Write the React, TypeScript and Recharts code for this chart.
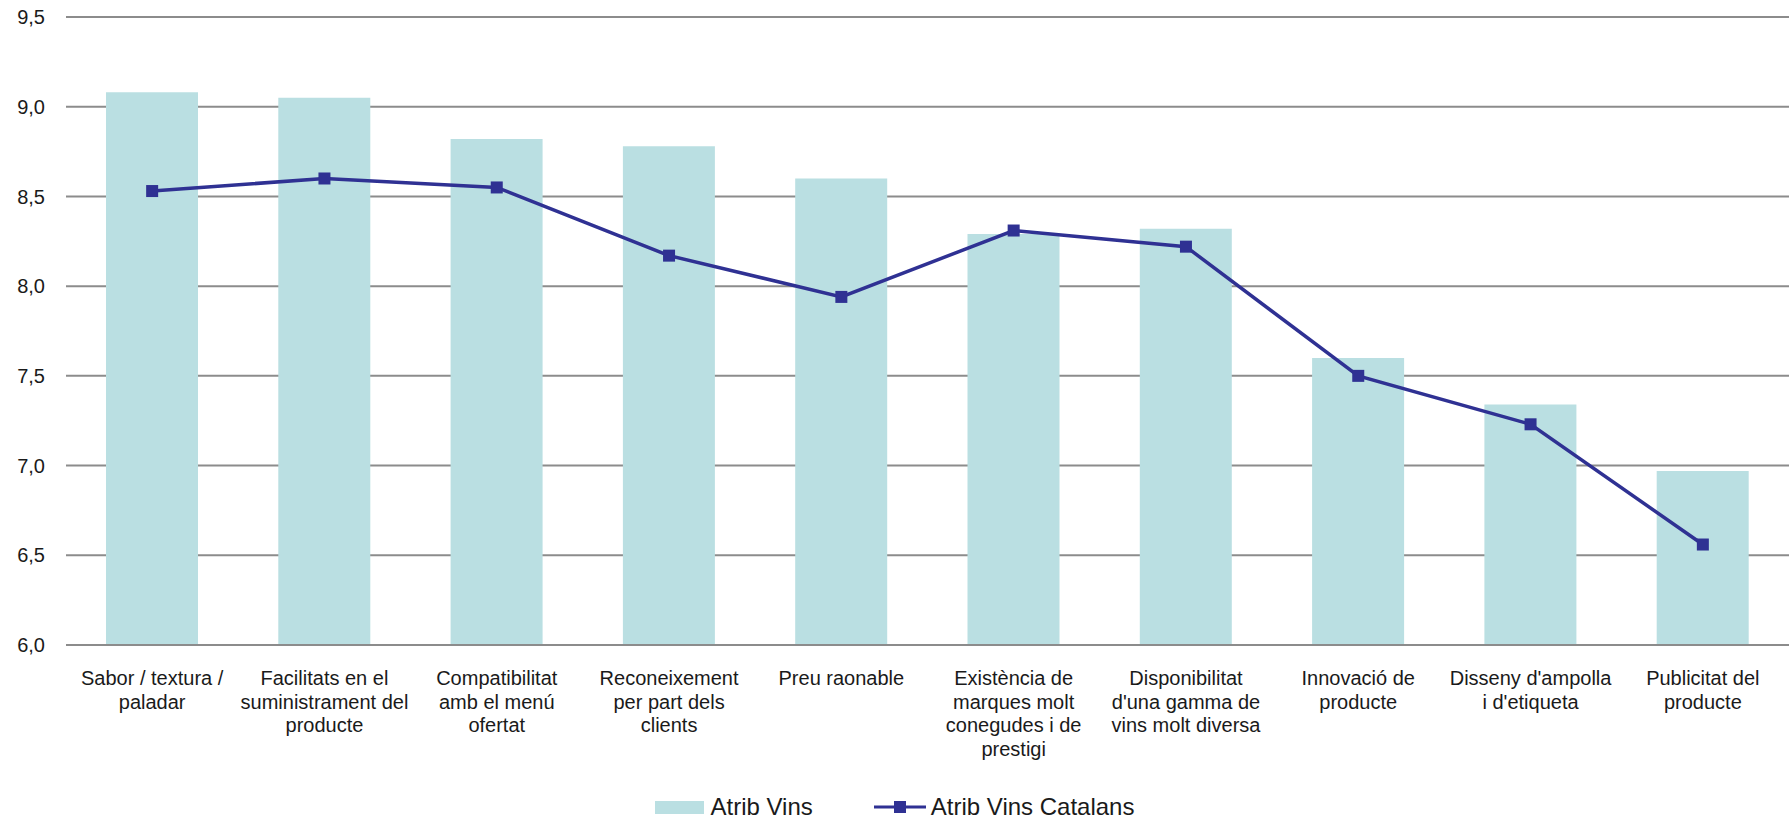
import React from 'react';
import { ComposedChart, Bar, Line, XAxis, YAxis, CartesianGrid } from 'recharts';

// Wine attribute ratings: all wines vs. Catalan wines
const categoryLines: string[][] = [
  ['Sabor / textura /', 'paladar'],
  ['Facilitats en el', 'suministrament del', 'producte'],
  ['Compatibilitat', 'amb el menú', 'ofertat'],
  ['Reconeixement', 'per part dels', 'clients'],
  ['Preu raonable'],
  ['Existència de', 'marques molt', 'conegudes i de', 'prestigi'],
  ['Disponibilitat', "d'una gamma de", 'vins molt diversa'],
  ['Innovació de', 'producte'],
  ["Disseny d'ampolla", "i d'etiqueta"],
  ['Publicitat del', 'producte'],
];

const atribVins: number[] = [9.08, 9.05, 8.82, 8.78, 8.6, 8.29, 8.32, 7.6, 7.34, 6.97];
const atribVinsCatalans: number[] = [8.53, 8.6, 8.55, 8.17, 7.94, 8.31, 8.22, 7.5, 7.23, 6.56];

const yTicks: number[] = [6, 6.5, 7, 7.5, 8, 8.5, 9, 9.5];

const seriesNames = { bars: 'Atrib Vins', line: 'Atrib Vins Catalans' };

const data = categoryLines.map((lines, i) => ({
  key: String(i),
  lines,
  vins: atribVins[i],
  catalans: atribVinsCatalans[i],
}));

const BAR_COLOR = '#badfe2';
const LINE_COLOR = '#2f3193';
const GRID_COLOR = '#8c8c8c';
const TEXT_COLOR = '#1a1a1a';
const FONT = '"Liberation Sans", Arial, Helvetica, sans-serif';

const CategoryTick = (props: any) => {
  const { x, y, payload } = props;
  const lines: string[] = categoryLines[Number(payload.value)] || [];
  return (
    <g transform={`translate(${x},${y})`}>
      <text textAnchor="middle" fill={TEXT_COLOR} fontSize={20} fontFamily={FONT}>
        {lines.map((ln, i) => (
          <tspan key={i} x={0} y={i * 23.6} dy={32}>
            {ln}
          </tspan>
        ))}
      </text>
    </g>
  );
};

const SquareDot = (props: any) => {
  const { cx, cy, index } = props;
  if (cx == null || cy == null) return <g key={`d-${index}`} />;
  return <rect key={`d-${index}`} x={cx - 6} y={cy - 6} width={12} height={12} fill={LINE_COLOR} />;
};

const LegendRow = () => (
  <div
    style={{
      position: 'absolute',
      left: 0,
      top: 792,
      width: 1789,
      display: 'flex',
      justifyContent: 'center',
      alignItems: 'center',
      gap: 61,
      fontFamily: FONT,
      fontSize: 24,
      color: TEXT_COLOR,
      lineHeight: '30px',
    }}
  >
    <div style={{ display: 'flex', alignItems: 'center' }}>
      <span style={{ display: 'inline-block', width: 49, height: 13, background: BAR_COLOR, marginRight: 7 }} />
      <span>{seriesNames.bars}</span>
    </div>
    <div style={{ display: 'flex', alignItems: 'center' }}>
      <svg width={52} height={14} style={{ marginRight: 5 }}>
        <line x1={0} y1={7} x2={52} y2={7} stroke={LINE_COLOR} strokeWidth={3} />
        <rect x={20} y={1} width={12} height={12} fill={LINE_COLOR} />
      </svg>
      <span>{seriesNames.line}</span>
    </div>
  </div>
);

export default function App() {
  return (
    <div style={{ position: 'absolute', left: 0, top: 0, width: 1789, height: 823, background: '#fff' }}>
      <ComposedChart
        width={1789}
        height={823}
        data={data}
        margin={{ top: 17, right: 0, bottom: 0, left: 0 }}
        barCategoryGap={0}
        style={{ fontFamily: FONT }}
      >
        <CartesianGrid vertical={false} stroke={GRID_COLOR} strokeWidth={2} />
        <XAxis
          dataKey="key"
          height={178}
          interval={0}
          tick={<CategoryTick />}
          tickLine={false}
          axisLine={{ stroke: GRID_COLOR, strokeWidth: 2 }}
        />
        <YAxis
          width={66}
          domain={[6, 9.5]}
          ticks={yTicks}
          allowDataOverflow
          axisLine={false}
          tickLine={false}
          tickSize={0}
          tickMargin={21}
          tick={{ fill: TEXT_COLOR, fontSize: 20, fontFamily: FONT }}
          tickFormatter={(v: number) => v.toFixed(1).replace('.', ',')}
        />
        <Bar dataKey="vins" name={seriesNames.bars} fill={BAR_COLOR} barSize={92} isAnimationActive={false} />
        <Line
          dataKey="catalans"
          name={seriesNames.line}
          type="linear"
          stroke={LINE_COLOR}
          strokeWidth={3.5}
          dot={<SquareDot />}
          activeDot={false}
          isAnimationActive={false}
        />
      </ComposedChart>
      <LegendRow />
    </div>
  );
}
